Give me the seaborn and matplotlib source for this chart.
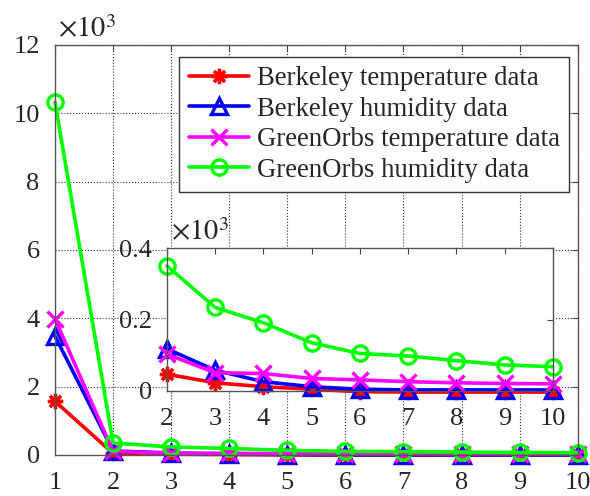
import numpy as np
import pandas as pd
import seaborn as sns
import matplotlib.pyplot as plt

# values (x10^3)
rounds = [1, 2, 3, 4, 5, 6, 7, 8, 9, 10]
berkeley_temp = [1.57, 0.047, 0.023, 0.012, 0.005, -0.002, -0.003, -0.003, -0.003, -0.003]
berkeley_hum = [3.48, 0.118, 0.058, 0.026, 0.012, 0.005, 0.003, 0.003, 0.003, 0.003]
greenorbs_temp = [3.98, 0.103, 0.051, 0.049, 0.035, 0.031, 0.026, 0.023, 0.021, 0.020]
greenorbs_hum = [10.32, 0.350, 0.234, 0.191, 0.135, 0.105, 0.098, 0.085, 0.073, 0.068]
labels = ['Berkeley temperature data', 'Berkeley humidity data',
          'GreenOrbs temperature data', 'GreenOrbs humidity data']

sns.set_style("white")
plt.rcParams['font.family'] = ['Liberation Serif', 'DejaVu Serif']
plt.rcParams['mathtext.fontset'] = 'stix'

series = [berkeley_temp, berkeley_hum, greenorbs_temp, greenorbs_hum]
styles = [('#ff0000', (8, 2, 0), 'full'), ('#0000ff', '^', 'none'),
          ('#ff00ff', 'x', 'full'), ('#00ff00', 'o', 'none')]

df = pd.concat([pd.DataFrame({'x': rounds, 'y': s, 'name': n})
                for s, n in zip(series, labels)])

fig = plt.figure(figsize=(5.9, 4.96), dpi=100)
ax = fig.add_axes([0.0932, 0.0827, 0.886, 0.827])
ins = fig.add_axes([0.283, 0.2117, 0.654, 0.288])


def draw(a, data, legend):
    for n, (c, m, fill) in zip(labels, styles):
        d = data[data['name'] == n]
        kw = dict(markerfacecolor='none') if fill == 'none' else dict(markerfacecolor=c)
        sns.lineplot(data=d, x='x', y='y', ax=a, color=c, marker=m,
                     markersize=11, markeredgewidth=2.4,
                     markeredgecolor=c, linewidth=2.6, label=n if legend else None,
                     clip_on=False, **kw)


draw(ax, df, True)
draw(ins, df[df['x'] >= 2], False)

for a in (ax, ins):
    a.set_xlabel('')
    a.set_ylabel('')
    a.tick_params(direction='in', top=True, right=True, labelsize=19,
                  length=4, color='#444444')
    a.tick_params(axis='x', pad=12)
    a.tick_params(axis='y', pad=11)
    for sp in a.spines.values():
        sp.set_color('#555555')
        sp.set_linewidth(1.0)

ax.set_xlim(1, 10)
ax.set_ylim(0, 12)
ax.set_xticks(range(1, 11))
ax.set_yticks(range(0, 13, 2))
ax.grid(True, linestyle=':', color='#333333', linewidth=0.8)

ins.set_xlim(2, 10)
ins.set_ylim(0, 0.4)
ins.set_xticks(range(2, 11))
ins.set_yticks([0, 0.2, 0.4])
ins.set_yticklabels(['0', '0.2', '0.4'])
ins.set_facecolor('white')

fig.text(0.099, 0.925, r'$\times 10^3$', fontsize=20.5)
fig.text(0.290, 0.515, r'$\times 10^3$', fontsize=20.5)

leg = ax.legend(loc='upper right', bbox_to_anchor=(0.984, 0.97), fontsize=19.3,
                frameon=True, fancybox=False, framealpha=1, edgecolor='#333333',
                handlelength=2.25, handletextpad=0.3, labelspacing=0.2,
                borderpad=0.35, borderaxespad=0.0)
leg.get_frame().set_linewidth(1.0)

fig.savefig('out.png', dpi=100)
